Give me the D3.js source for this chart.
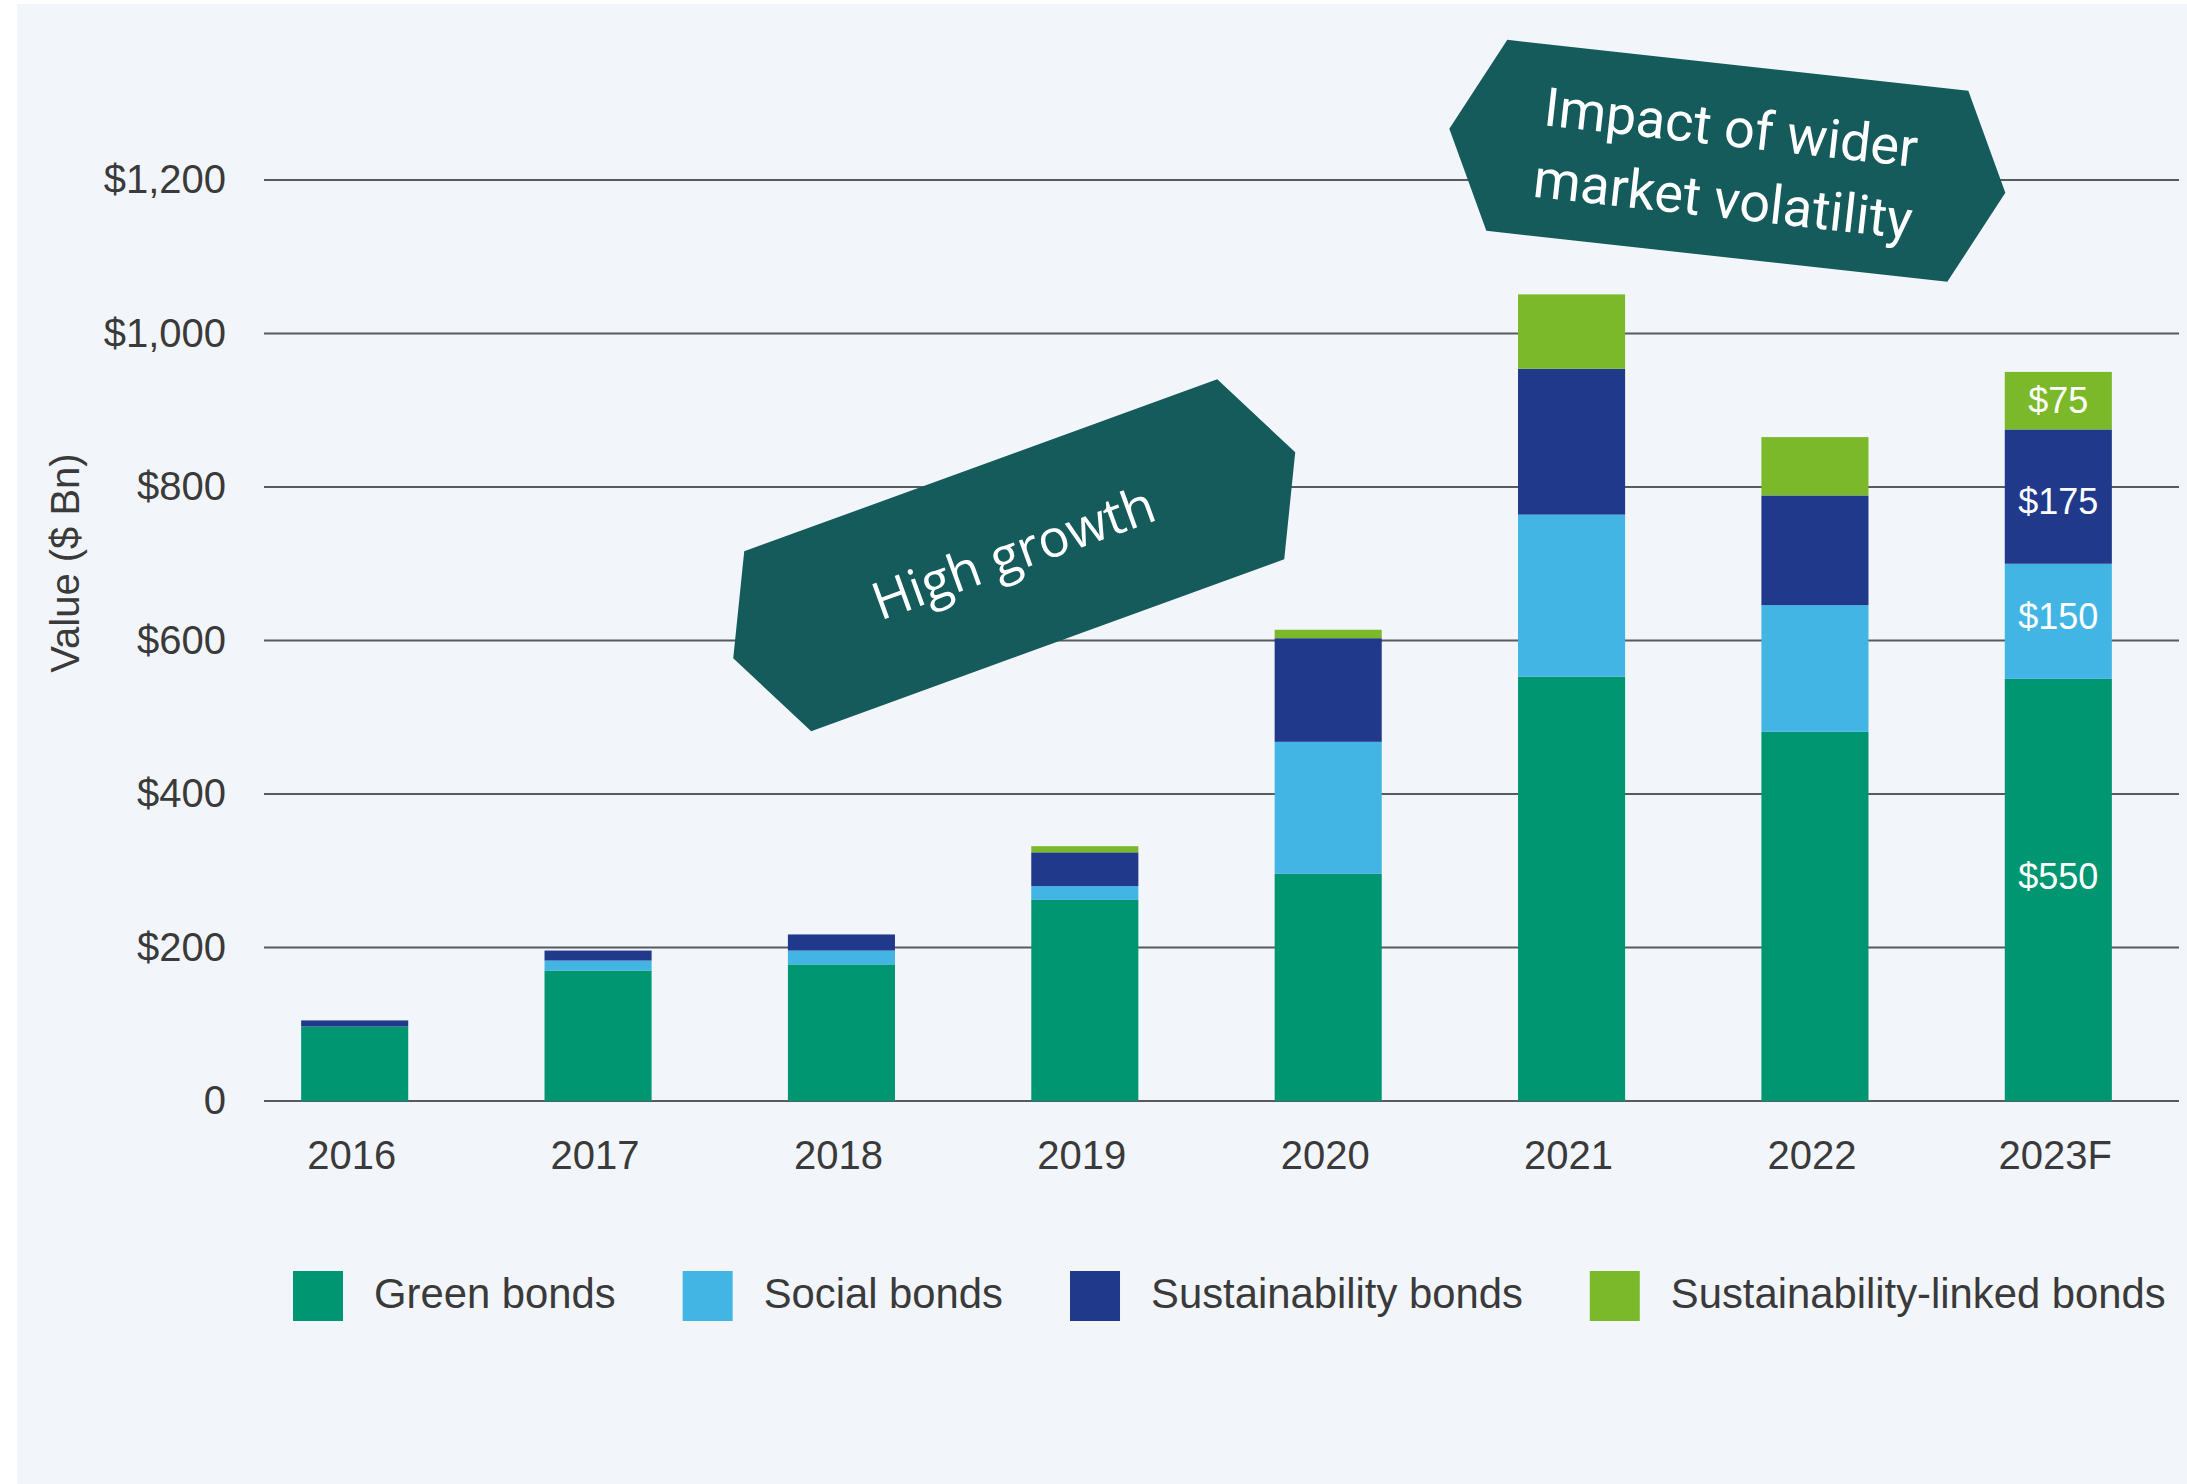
<!DOCTYPE html>
<html>
<head>
<meta charset="utf-8">
<script src="https://cdn.jsdelivr.net/npm/d3@7"></script>
<style>
	body { margin: 0; background: #ffffff; }
	svg { display: block; }
</style>
</head>
<body>
<svg></svg>
<script>
var w = 2187;
var h = 1484;

// values ($ Bn)
var years = ["2016", "2017", "2018", "2019", "2020", "2021", "2022", "2023F"];
var greenBonds = [97, 170, 178, 262, 296, 553, 481, 550];
var socialBonds = [0, 13, 18, 18, 172, 211, 165, 150];
var sustainabilityBonds = [8, 13, 21, 44, 135, 190, 143, 175];
var linkedBonds = [0, 0, 0, 8, 11, 97, 76, 75];

var seriesKeys = ["green", "social", "sustainability", "linked"];
var seriesNames = ["Green bonds", "Social bonds", "Sustainability bonds", "Sustainability-linked bonds"];
var seriesColors = ["#009672", "#42b5e5", "#21398a", "#7bb92a"];
var yTicks = [0, 200, 400, 600, 800, 1000, 1200];
var labelledYear = "2023F";
// small vertical nudges (px) of the value labels, as placed in the original
var labelNudge = [-14, -5, 5, 0];

var textColor = "#3a3a3a";
var teal = "#155b5b";

var canvas = d3.select("svg")
	.attr("width", w)
	.attr("height", h)
	.style("font-family", "'Liberation Sans', Arial, sans-serif");

canvas.append("rect")
	.attr("x", 17)
	.attr("y", 4)
	.attr("width", w - 17)
	.attr("height", h - 4)
	.attr("fill", "#f2f6fa");

var table = years.map(function (y, i) {
	return { year: y, green: greenBonds[i], social: socialBonds[i], sustainability: sustainabilityBonds[i], linked: linkedBonds[i] };
});

var x = d3.scaleBand()
	.domain(years)
	.range([233, 2180])
	.paddingInner(0.56)
	.paddingOuter(0.28);

var y = d3.scaleLinear()
	.domain([0, 1200])
	.range([1101, 180]);

// gridlines
canvas.append("g")
	.selectAll("line")
	.data(yTicks)
	.join("line")
	.attr("x1", 264)
	.attr("x2", 2179)
	.attr("y1", function (d) { return y(d); })
	.attr("y2", function (d) { return y(d); })
	.attr("stroke", "#555b5f")
	.attr("stroke-width", 2);

// y axis labels
var yAxis = canvas.append("g")
	.attr("transform", "translate(226,0)")
	.call(d3.axisLeft(y)
		.tickValues(yTicks)
		.tickSize(0)
		.tickPadding(0)
		.tickFormat(function (d) { return d === 0 ? "0" : "$" + d3.format(",")(d); }));
yAxis.select(".domain").remove();
yAxis.selectAll("text")
	.attr("font-size", 40)
	.attr("font-family", "'Liberation Sans', Arial, sans-serif")
	.attr("fill", textColor);

canvas.append("text")
	.attr("transform", "translate(65,563) rotate(-90)")
	.attr("text-anchor", "middle")
	.attr("dy", "0.35em")
	.attr("font-size", 40)
	.attr("fill", textColor)
	.text("Value ($ Bn)");

// x axis labels
var xAxis = canvas.append("g")
	.attr("transform", "translate(-3," + y(0) + ")")
	.call(d3.axisBottom(x).tickSize(0).tickPadding(40));
xAxis.select(".domain").remove();
xAxis.selectAll("text")
	.attr("font-size", 40)
	.attr("font-family", "'Liberation Sans', Arial, sans-serif")
	.attr("fill", textColor);

// stacked bars
var stack = d3.stack().keys(seriesKeys);
var series = stack(table);

canvas.append("g")
	.selectAll("g")
	.data(series)
	.join("g")
	.attr("fill", function (d, i) { return seriesColors[i]; })
	.selectAll("rect")
	.data(function (d) { return d; })
	.join("rect")
	.attr("x", function (d) { return x(d.data.year); })
	.attr("width", x.bandwidth())
	.attr("y", function (d) { return y(d[1]); })
	.attr("height", function (d) { return y(d[0]) - y(d[1]); });

// value labels on the forecast bar
var labelData = series.map(function (s, i) {
	var seg = s.find(function (d) { return d.data.year === labelledYear; });
	return { v: seg[1] - seg[0], mid: (seg[0] + seg[1]) / 2, nudge: labelNudge[i] };
});
canvas.append("g")
	.selectAll("text")
	.data(labelData)
	.join("text")
	.attr("x", x(labelledYear) + x.bandwidth() / 2)
	.attr("y", function (d) { return y(d.mid) + d.nudge; })
	.attr("dy", "0.35em")
	.attr("text-anchor", "middle")
	.attr("font-size", 36)
	.attr("fill", "#ffffff")
	.text(function (d) { return "$" + d.v; });

// legend
var legend = canvas.append("g").attr("transform", "translate(293,1271)");
var lx = 0;
seriesNames.forEach(function (name, i) {
	var item = legend.append("g").attr("transform", "translate(" + lx + ",0)");
	item.append("rect")
		.attr("width", 50)
		.attr("height", 50)
		.attr("fill", seriesColors[i]);
	var t = item.append("text")
		.attr("x", 81)
		.attr("y", 37)
		.attr("font-size", 41.8)
		.attr("fill", textColor)
		.text(name);
	lx += 81 + t.node().getComputedTextLength() + 67;
});

// annotation banners
function xAt(pos) {
	return x.range()[0] + x.step() * (pos + 0.5);
}

var banners = [
	{ pos: 2.71, value: 711, angle: -20, font: "'Open Sans', sans-serif", size: 52,
		lines: ["High growth"], lineY: [0],
		shape: [[-270, -4], [203, -176], [281, -103], [270, 4], [-203, 176], [-281, 103]] },
	{ pos: 5.64, value: 1225, angle: 6.4, font: "Roboto, sans-serif", size: 54,
		lines: ["Impact of wider", "market volatility"], lineY: [-31, 41],
		shape: [[-220, -121], [241, -70], [278, 32], [220, 121], [-241, 70], [-278, -32]] }
];

banners.forEach(function (b) {
	var g = canvas.append("g")
		.attr("transform", "translate(" + xAt(b.pos) + "," + y(b.value) + ")");
	g.append("polygon")
		.attr("points", b.shape.map(function (p) { return p.join(","); }).join(" "))
		.attr("fill", teal);
	var tg = g.append("g").attr("transform", "rotate(" + b.angle + ")");
	tg.selectAll("text")
		.data(b.lines)
		.join("text")
		.attr("x", 0)
		.attr("y", function (d, i) { return b.lineY[i]; })
		.attr("dy", "0.3em")
		.attr("text-anchor", "middle")
		.attr("font-family", b.font)
		.attr("font-size", b.size)
		.attr("fill", "#ffffff")
		.text(function (d) { return d; });
});
</script>
</body>
</html>
